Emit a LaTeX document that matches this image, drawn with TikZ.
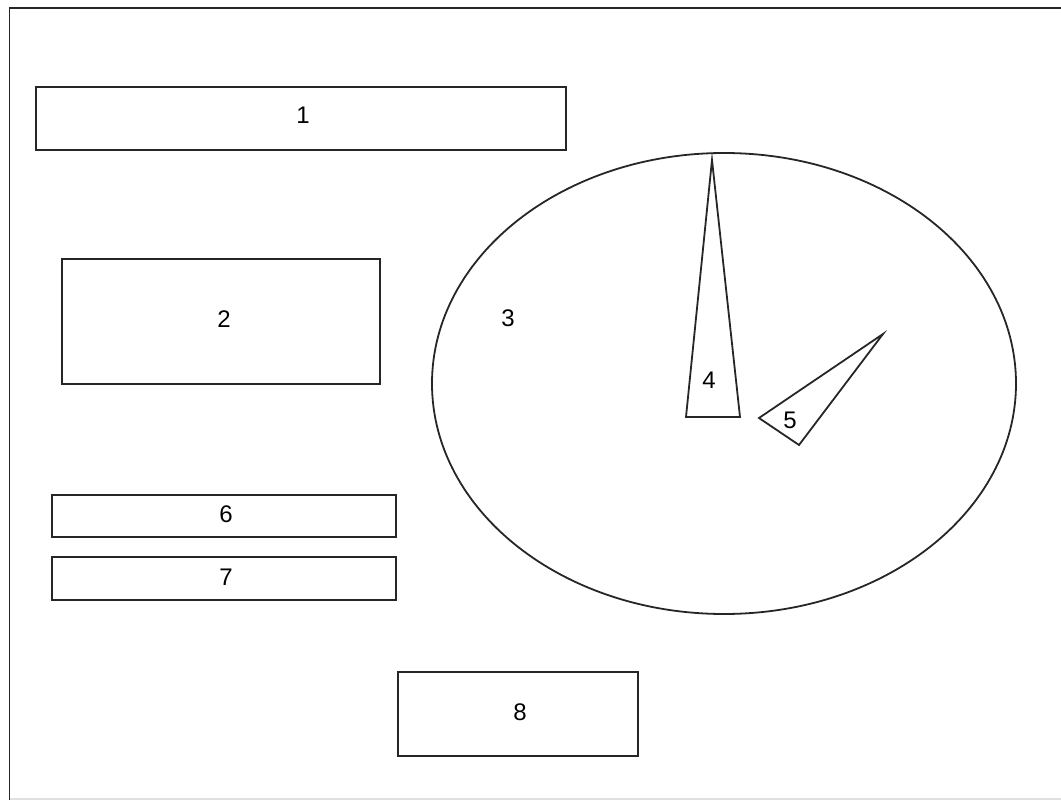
\documentclass[tikz,border=0pt]{standalone}
\usepackage{fontspec}
\setmainfont{Liberation Sans}
\begin{document}
\begin{tikzpicture}[x=1pt,y=-1pt,
  shp/.style={draw=black!85,line width=1.8pt},
  lbl/.style={font=\fontsize{24}{24}\selectfont,inner sep=0pt}]
\useasboundingbox (0,0) rectangle (1061,800);
\draw[shp] (9.5,1000) -- (9.5,8) -- (1200,8);
\draw[draw=black!12,line width=1.5pt] (9.5,799) -- (1200,799);
\draw[shp] (36,87) rectangle (566,150);
\node[lbl] (l1) at (303,115) {1};
\draw[shp] (62,259) rectangle (380,384);
\node[lbl] (l2) at (224,319) {2};
\draw[shp] (724,383.5) ellipse [x radius=292,y radius=230.5];
\node[lbl] (l3) at (508,318) {3};
\draw[shp,line join=miter] (712,160) -- (740,417) -- (686,417) -- cycle;
\node[lbl] (l4) at (709,380) {4};
\draw[shp,line join=miter] (883,334) -- (799,445) -- (759,418) -- cycle;
\node[lbl] (l5) at (790,420) {5};
\draw[shp] (52,495) rectangle (396,537);
\node[lbl] (l6) at (226,514) {6};
\draw[shp] (52,557) rectangle (396,600);
\node[lbl] (l7) at (226,577) {7};
\draw[shp] (398,672) rectangle (638,756);
\node[lbl] (l8) at (520,712) {8};
\end{tikzpicture}
\end{document}
